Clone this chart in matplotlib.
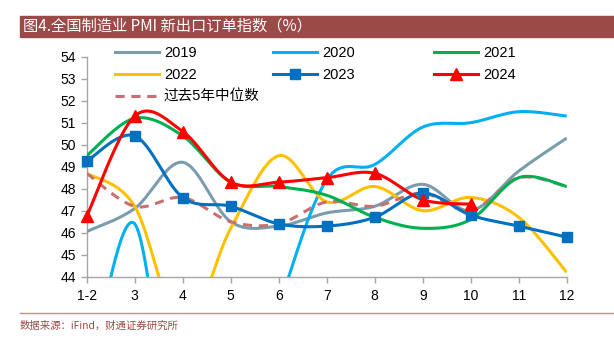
import numpy as np
import matplotlib
matplotlib.use("Agg")
import matplotlib.pyplot as plt
from matplotlib.lines import Line2D
from matplotlib.patches import Rectangle

months = ["1-2", "3", "4", "5", "6", "7", "8", "9", "10", "11", "12"]
y2019 = [46.05, 47.1, 49.2, 46.5, 46.3, 46.9, 47.2, 48.2, 47.0, 48.8, 50.3]
y2020 = [38.7, 46.4, 33.5, 35.3, 42.6, 48.4, 49.1, 50.8, 51.0, 51.5, 51.3]
y2021 = [49.5, 51.2, 50.4, 48.3, 48.1, 47.7, 46.7, 46.2, 46.6, 48.5, 48.1]
y2022 = [48.7, 47.2, 41.6, 46.2, 49.5, 47.4, 48.1, 47.0, 47.6, 46.7, 44.2]
y2023 = [49.25, 50.4, 47.6, 47.2, 46.4, 46.3, 46.7, 47.8, 46.8, 46.3, 45.8]
y2024 = [46.75, 51.3, 50.6, 48.3, 48.3, 48.5, 48.7, 47.5, 47.3]
median5 = [48.7, 47.2, 47.6, 46.5, 46.4, 47.4, 47.2, 47.8, 47.0, 48.5, 48.1]
yticks = list(range(44, 55))

def smooth(y, n=40):
    y = np.asarray(y, float)
    x = np.arange(len(y), dtype=float)
    P = np.column_stack([x, y])
    ext = np.vstack([P[0], P, P[-1]])
    out = []
    t = np.linspace(0, 1, n)[:, None]
    for i in range(len(P) - 1):
        p0, p1, p2, p3 = ext[i], ext[i + 1], ext[i + 2], ext[i + 3]
        c1 = p1 + (p2 - p0) / 6.0
        c2 = p2 - (p3 - p1) / 6.0
        seg = ((1 - t) ** 3) * p1 + 3 * ((1 - t) ** 2) * t * c1 + 3 * (1 - t) * t ** 2 * c2 + t ** 3 * p2
        out.append(seg if i == 0 else seg[1:])
    s = np.vstack(out)
    return s[:, 0], s[:, 1]

plt.rcParams['font.family'] = ['Liberation Sans', 'Noto Sans CJK SC', 'DejaVu Sans']

fig = plt.figure(figsize=(6.14, 3.42), dpi=100)
W, H = 614, 342
ax = fig.add_axes([86.7 / W, 1 - 276.7 / H, (566.7 - 86.7) / W, (276.7 - 56.7) / H])

c2019 = "#7A9CAE"
c2020 = "#00B0F0"
c2021 = "#00B050"
c2022 = "#FFC000"
c2023 = "#0070C0"
c2024 = "#FF0000"
cmed = "#C8706E"
lw = 2.2

series = [
    (y2019, c2019, "2019", None, "-"),
    (y2020, c2020, "2020", None, "-"),
    (y2022, c2022, "2022", None, "-"),
    (median5, cmed, "过去5年中位数", None, "--"),
    (y2021, c2021, "2021", None, "-"),
    (y2023, c2023, "2023", "s", "-"),
    (y2024, c2024, "2024", "^", "-"),
]
for vals, col, lab, mk, ls in series:
    sx, sy = smooth(vals)
    ax.plot(sx, sy, color=col, lw=lw, ls=ls, dashes=(3, 2.2) if ls == "--" else (None, None), zorder=3,
            solid_capstyle='butt')
    if mk:
        ax.plot(np.arange(len(vals)), vals, ls="none", marker=mk, color=col, ms=7 if mk == "s" else 8,
                zorder=4, clip_on=False)

ax.set_xlim(0, len(months) - 1)
ax.set_ylim(44, 54)
ax.set_xticks(np.arange(len(months)))
ax.set_xticklabels(months)
ax.set_yticks(yticks)
for s in ["top", "right"]:
    ax.spines[s].set_visible(False)
for s in ["left", "bottom"]:
    ax.spines[s].set_color("#A6A6A6")
    ax.spines[s].set_linewidth(1.0)
ax.tick_params(axis="both", colors="#A6A6A6", labelcolor="#000000", labelsize=10, length=4, width=1)
ax.tick_params(axis="x", pad=5)

def h(col, mk=None, ls="-"):
    return Line2D([], [], color=col, lw=lw, ls=ls, marker=mk, ms=7 if mk == "s" else 8, markeredgecolor=col,
                  dashes=(3, 2.2) if ls == "--" else (None, None))

cols = [
    (115, [(h(c2019), "2019"), (h(c2022), "2022"), (h(cmed, ls="--"), "过去5年中位数")]),
    (273, [(h(c2020), "2020"), (h(c2023, "s"), "2023")]),
    (434, [(h(c2021), "2021"), (h(c2024, "^"), "2024")]),
]
for x0, items in cols:
    lg = fig.legend([i[0] for i in items], [i[1] for i in items], loc="upper left",
                    bbox_to_anchor=(x0 / W, 1 - 46 / H), frameon=False, fontsize=10.5,
                    handlelength=3.0, handletextpad=0.35, borderpad=0, borderaxespad=0,
                    labelspacing=0.55, numpoints=1)

# title banner
fig.patches.append(Rectangle((20 / W, 1 - 36.5 / H), (614 - 20) / W, 20.5 / H, transform=fig.transFigure,
                             color="#9B4A47", zorder=0))
fig.text(23 / W, 1 - 26.5 / H, "图4.全国制造业 PMI 新出口订单指数（%）", color="white", fontsize=11,
         va="center", ha="left", family=['Noto Sans CJK SC', 'DejaVu Sans'])

# footer
fig.add_artist(Line2D([20 / W, 1], [1 - 312.5 / H, 1 - 312.5 / H], transform=fig.transFigure,
                      color="#D08A88", lw=1))
fig.text(20 / W, 1 - 326 / H, "数据来源：iFind，财通证券研究所", color="#9B4A47", fontsize=7.5,
         va="center", ha="left", family=['Noto Sans CJK SC', 'DejaVu Sans'])

fig.savefig("out.png", dpi=100)
